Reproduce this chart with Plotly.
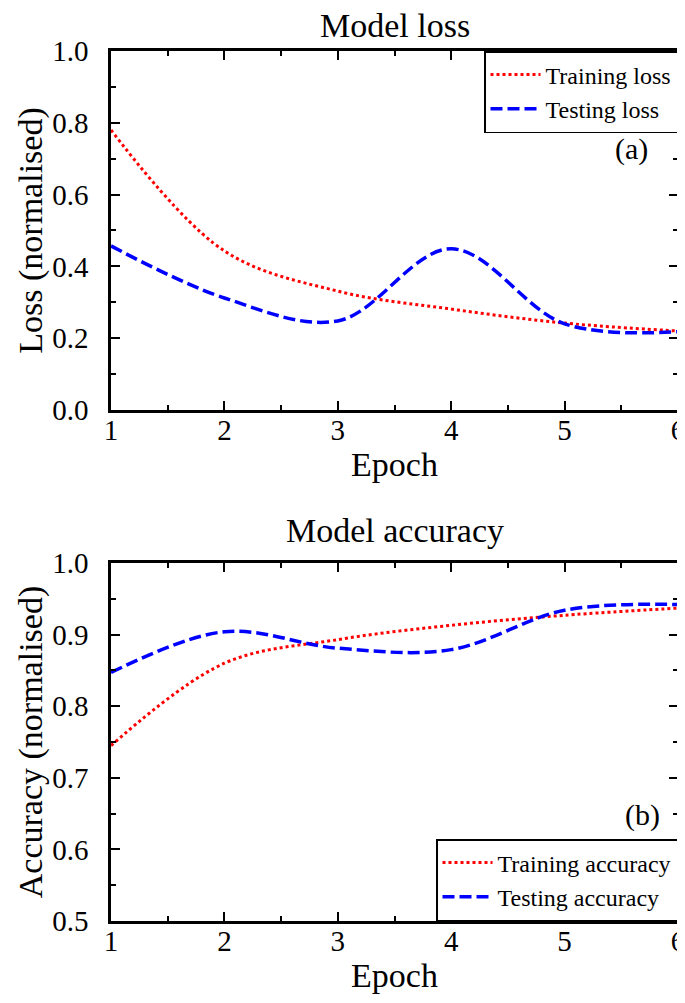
import plotly.graph_objects as go
from plotly.subplots import make_subplots

epochs = [1, 2, 3, 4, 5, 6]
train_loss = [0.78, 0.443, 0.331, 0.281, 0.242, 0.22]
test_loss = [0.457, 0.312, 0.248, 0.449, 0.24, 0.218]
train_acc = [0.745, 0.86, 0.893, 0.913, 0.927, 0.937]
test_acc = [0.847, 0.904, 0.881, 0.879, 0.934, 0.942]

FONT = "Liberation Serif"
RED = "#ff0000"
BLUE = "#0000ff"

fig = make_subplots(rows=2, cols=1)

fig.add_trace(go.Scatter(x=epochs, y=train_loss, mode="lines", name="Training loss",
                         line=dict(color=RED, width=3, dash="3px,3px", shape="spline", smoothing=1.0),
                         legend="legend"), row=1, col=1)
fig.add_trace(go.Scatter(x=epochs, y=test_loss, mode="lines", name="Testing loss",
                         line=dict(color=BLUE, width=3.5, dash="12px,5px", shape="spline", smoothing=1.0),
                         legend="legend"), row=1, col=1)
fig.add_trace(go.Scatter(x=epochs, y=train_acc, mode="lines", name="Training accuracy",
                         line=dict(color=RED, width=3, dash="3px,3px", shape="spline", smoothing=1.0),
                         legend="legend2"), row=2, col=1)
fig.add_trace(go.Scatter(x=epochs, y=test_acc, mode="lines", name="Testing accuracy",
                         line=dict(color=BLUE, width=3.5, dash="12px,5px", shape="spline", smoothing=1.0),
                         legend="legend2"), row=2, col=1)

axis_common = dict(showline=True, linecolor="black", linewidth=2.5, mirror="allticks",
                   ticks="inside", ticklen=9, tickwidth=1.5, tickcolor="black",
                   showgrid=False, zeroline=False,
                   tickfont=dict(family=FONT, size=29, color="black"))

TITLE_FONT = dict(family=FONT, size=34, color="black")

fig.update_xaxes(range=[1, 6], dtick=1, tick0=1, ticklabelstandoff=-8,
                 minor=dict(ticks="inside", ticklen=5, tickwidth=1.5, tickcolor="black", dtick=0.5),
                 title=dict(text="Epoch", font=TITLE_FONT, standoff=8),
                 **axis_common)

fig.update_yaxes(range=[0, 1], dtick=0.2, tick0=0, tickformat=".1f", ticklabelstandoff=14,
                 minor=dict(ticks="inside", ticklen=5, tickwidth=1.5, tickcolor="black", dtick=0.1),
                 title=dict(text="Loss (normalised)", font=TITLE_FONT, standoff=0),
                 domain=[0.5874, 1.0], row=1, col=1, **axis_common)
fig.update_yaxes(range=[0.5, 1], dtick=0.1, tick0=0.5, tickformat=".1f", ticklabelstandoff=14,
                 minor=dict(ticks="inside", ticklen=5, tickwidth=1.5, tickcolor="black", dtick=0.05),
                 title=dict(text="Accuracy (normalised)", font=TITLE_FONT, standoff=0),
                 domain=[0.0, 0.4115], row=2, col=1, **axis_common)

LEG_FONT = dict(family=FONT, size=24, color="black")
fig.update_layout(
    width=685, height=1003,
    margin=dict(l=103, r=8, t=43, b=90),
    plot_bgcolor="white", paper_bgcolor="white",
    font=dict(family=FONT, color="black"),
    legend=dict(x=1, y=1, xanchor="right", yanchor="top", xref="paper", yref="paper",
                bordercolor="black", borderwidth=1.5, bgcolor="white", itemwidth=50,
                font=LEG_FONT, tracegroupgap=0),
    legend2=dict(x=1, y=0, xanchor="right", yanchor="bottom", xref="paper", yref="paper",
                 bordercolor="black", borderwidth=1.5, bgcolor="white", itemwidth=50,
                 font=LEG_FONT, tracegroupgap=0),
    annotations=[
        dict(text="Model loss", x=0.5, y=1.0, xref="paper", yref="paper", xanchor="center",
             yanchor="bottom", yshift=5, showarrow=False, font=TITLE_FONT),
        dict(text="Model accuracy", x=0.5, y=0.4115, xref="paper", yref="paper", xanchor="center",
             yanchor="bottom", yshift=12, showarrow=False, font=TITLE_FONT),
        dict(text="(a)", x=5.75, y=0.728, xref="x", yref="y", xanchor="right", yanchor="middle",
             showarrow=False, font=dict(family=FONT, size=30, color="black")),
        dict(text="(b)", x=5.86, y=0.648, xref="x2", yref="y2", xanchor="right", yanchor="middle",
             showarrow=False, font=dict(family=FONT, size=30, color="black")),
    ],
)

fig.write_html("out.html")
